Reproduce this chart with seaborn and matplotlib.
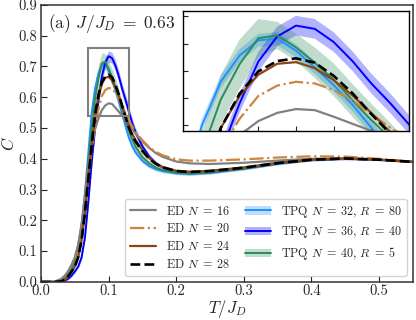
import numpy as np
import pandas as pd
import matplotlib
matplotlib.use("Agg")
import matplotlib.pyplot as plt
import seaborn as sns
from matplotlib.patches import Patch, Rectangle
from matplotlib.lines import Line2D

# ---------------- data ----------------
T = [0.0, 0.02, 0.03, 0.035, 0.04, 0.045, 0.05, 0.055, 0.06, 0.065, 0.07, 0.075,
     0.08, 0.085, 0.09, 0.095, 0.1, 0.105, 0.11, 0.115, 0.12, 0.125, 0.13, 0.135,
     0.14, 0.15, 0.16, 0.17, 0.18, 0.2, 0.22, 0.25, 0.3, 0.35, 0.4, 0.45, 0.5, 0.55]

ed16 = [0.0, 0.001, 0.01, 0.02, 0.035, 0.055, 0.08, 0.12, 0.185, 0.28, 0.38, 0.45,
        0.497, 0.532, 0.558, 0.573, 0.58, 0.578, 0.566, 0.553, 0.54, 0.526, 0.511, 0.496,
        0.481, 0.456, 0.435, 0.418, 0.406, 0.391, 0.385, 0.383, 0.387, 0.394, 0.4, 0.401, 0.397, 0.39]
ed20 = [0.0, 0.0, 0.003, 0.008, 0.019, 0.036, 0.058, 0.09, 0.14, 0.23, 0.34, 0.43,
        0.505, 0.562, 0.604, 0.623, 0.63, 0.627, 0.615, 0.596, 0.571, 0.546, 0.525, 0.505,
        0.487, 0.46, 0.438, 0.422, 0.411, 0.398, 0.394, 0.394, 0.398, 0.404, 0.408, 0.407, 0.4, 0.39]
ed24 = [0.0, 0.0, 0.002, 0.007, 0.018, 0.033, 0.05, 0.08, 0.135, 0.225, 0.335, 0.445,
        0.545, 0.604, 0.643, 0.663, 0.666, 0.655, 0.633, 0.605, 0.573, 0.538, 0.505, 0.48,
        0.46, 0.428, 0.402, 0.384, 0.373, 0.361, 0.358, 0.361, 0.372, 0.387, 0.397, 0.401, 0.397, 0.39]
ed28 = [0.0, 0.0, 0.002, 0.007, 0.018, 0.033, 0.05, 0.08, 0.135, 0.225, 0.335, 0.445,
        0.545, 0.608, 0.649, 0.668, 0.673, 0.665, 0.641, 0.609, 0.571, 0.535, 0.5, 0.475,
        0.455, 0.425, 0.4, 0.383, 0.372, 0.36, 0.357, 0.36, 0.371, 0.386, 0.397, 0.401, 0.397, 0.39]

tpq32 = [0.0, 0.0, 0.004, 0.012, 0.026, 0.046, 0.077, 0.122, 0.19, 0.29, 0.42, 0.55,
         0.63, 0.678, 0.706, 0.709, 0.687, 0.656, 0.624, 0.588, 0.546, 0.505, 0.468, 0.44,
         0.42, 0.393, 0.376, 0.366, 0.36, 0.353, 0.351, 0.355, 0.368, 0.384, 0.396, 0.4, 0.397, 0.39]
tpq32_err = [0, 0, 0.002, 0.003, 0.004, 0.005, 0.006, 0.007, 0.008, 0.009, 0.01, 0.012,
             0.012, 0.012, 0.012, 0.012, 0.012, 0.012, 0.012, 0.012, 0.012, 0.011, 0.01, 0.009,
             0.008, 0.007, 0.006, 0.006, 0.006, 0.005, 0.005, 0.005, 0.004, 0.004, 0.003, 0.003, 0.003, 0.003]
tpq36 = [0.0, 0.0, 0.001, 0.004, 0.01, 0.02, 0.034, 0.05, 0.08, 0.145, 0.26, 0.39,
         0.5, 0.59, 0.667, 0.713, 0.733, 0.727, 0.703, 0.668, 0.627, 0.591, 0.552, 0.515,
         0.485, 0.44, 0.407, 0.385, 0.372, 0.358, 0.354, 0.357, 0.369, 0.385, 0.396, 0.4, 0.397, 0.39]
tpq36_err = [0, 0, 0.001, 0.002, 0.003, 0.004, 0.005, 0.006, 0.007, 0.009, 0.011, 0.013,
             0.015, 0.017, 0.018, 0.018, 0.018, 0.018, 0.018, 0.018, 0.018, 0.018, 0.017, 0.015,
             0.013, 0.01, 0.008, 0.007, 0.006, 0.005, 0.005, 0.005, 0.004, 0.004, 0.003, 0.003, 0.003, 0.003]
tpq40 = [0.0, 0.0, 0.003, 0.01, 0.022, 0.04, 0.068, 0.11, 0.175, 0.27, 0.39, 0.5,
         0.597, 0.662, 0.71, 0.715, 0.693, 0.665, 0.634, 0.596, 0.56, 0.527, 0.492, 0.462,
         0.438, 0.405, 0.385, 0.371, 0.363, 0.355, 0.352, 0.356, 0.368, 0.385, 0.396, 0.4, 0.397, 0.39]
tpq40_err = [0, 0, 0.002, 0.004, 0.006, 0.008, 0.01, 0.013, 0.016, 0.02, 0.025, 0.035,
             0.045, 0.045, 0.035, 0.025, 0.025, 0.028, 0.03, 0.03, 0.03, 0.028, 0.025, 0.02,
             0.016, 0.012, 0.009, 0.007, 0.006, 0.005, 0.005, 0.005, 0.004, 0.004, 0.003, 0.003, 0.003, 0.003]

ed_labels = [r"ED $N\;=\;16$", r"ED $N\;=\;20$", r"ED $N\;=\;24$", r"ED $N\;=\;28$"]
tpq_labels = [r"TPQ $N\;=\;32$, $R\;=\;80$", r"TPQ $N\;=\;36$, $R\;=\;40$",
              r"TPQ $N\;=\;40$, $R\;=\;5$"]
x_ticks = [0.0, 0.1, 0.2, 0.3, 0.4, 0.5]
y_ticks = [0.0, 0.1, 0.2, 0.3, 0.4, 0.5, 0.6, 0.7, 0.8, 0.9]
inset_xticks = [0.08, 0.09, 0.10, 0.11, 0.12]
inset_yticks = [0.55, 0.60, 0.65, 0.70, 0.75]

# ---------------- style ----------------
sns.set_style("ticks")
plt.rcParams["font.family"] = "serif"
plt.rcParams["font.serif"] = ["cmr10"]
plt.rcParams["mathtext.fontset"] = "cm"
plt.rcParams["axes.formatter.use_mathtext"] = True
plt.rcParams["axes.unicode_minus"] = False

ed_series = [(ed16, "gray", "-", 1.6), (ed20, "peru", "-.", 1.6),
             (ed24, "saddlebrown", "-", 1.6), (ed28, "black", "--", 1.9)]
tpq_series = [(tpq32, tpq32_err, "dodgerblue"), (tpq36, tpq36_err, "blue"),
              (tpq40, tpq40_err, "seagreen")]

fig = plt.figure(figsize=(4.16, 3.2), dpi=100)
ax = fig.add_axes([0.0986, 0.119, 0.894, 0.866])
axin = fig.add_axes([0.44, 0.591, 0.543, 0.375])

Tarr = np.array(T)


def draw(a):
    for c, e, col in tpq_series:
        c = np.array(c)
        e = np.array(e)
        a.fill_between(Tarr, c - e, c + e, color=col, alpha=0.3, lw=0)
    for c, e, col in tpq_series:
        sns.lineplot(x=T, y=c, ax=a, color=col, lw=1.4, sort=False, errorbar=None)
    for c, col, ls, lw in ed_series:
        sns.lineplot(x=T, y=c, ax=a, color=col, lw=lw, linestyle=ls, sort=False, errorbar=None)


draw(ax)
draw(axin)

ax.set_xlim(0, 0.55)
ax.set_ylim(0, 0.9)
ax.set_xticks(x_ticks)
ax.set_yticks(y_ticks)
ax.set_xticklabels([f"{v:.1f}" for v in x_ticks])
ax.set_yticklabels([f"{v:.1f}" for v in y_ticks])
ax.tick_params(direction="in", labelsize=10.5, length=4, color="#222222")
ax.tick_params(axis="x", pad=1.5)
ax.tick_params(axis="y", pad=3)
ax.set_xlabel(r"$T/J_D$", fontsize=12, labelpad=0)
ax.set_ylabel(r"$C$", fontsize=12, labelpad=1)
for s in ax.spines.values():
    s.set_color("#333333")
    s.set_linewidth(1.1)
ax.text(0.02, 0.975, r"(a) $J/J_D\;=\;0.63$", transform=ax.transAxes,
        fontsize=12.5, va="top", ha="left")
ax.add_patch(Rectangle((0.07, 0.54), 0.06, 0.22, fill=False,
                       edgecolor="gray", lw=1.5, zorder=5))

axin.set_xlim(0.07, 0.13)
axin.set_ylim(0.54, 0.76)
axin.set_xticks(inset_xticks)
axin.set_yticks(inset_yticks)
axin.set_xticklabels([])
axin.set_yticklabels([])
axin.set_xlabel("")
axin.set_ylabel("")
axin.tick_params(direction="in", length=3.5)
for s in axin.spines.values():
    s.set_color("black")
    s.set_linewidth(1.0)

handles = []
for (c, col, ls, lw), lab in zip(ed_series, ed_labels):
    handles.append(Line2D([], [], color=col, lw=lw, linestyle=ls))
for (c, e, col), lab in zip(tpq_series, tpq_labels):
    handles.append((Patch(facecolor=col, alpha=0.3, edgecolor="none"),
                    Line2D([], [], color=col, lw=1.4)))
ax.legend(handles, ed_labels + tpq_labels, ncol=2, loc="lower right",
          fontsize=8.7, handlelength=2.2, handletextpad=0.8,
          columnspacing=1.2, labelspacing=0.4,
          framealpha=0.85, edgecolor="#cccccc", borderaxespad=0.5)

fig.savefig("out.png", dpi=100)
